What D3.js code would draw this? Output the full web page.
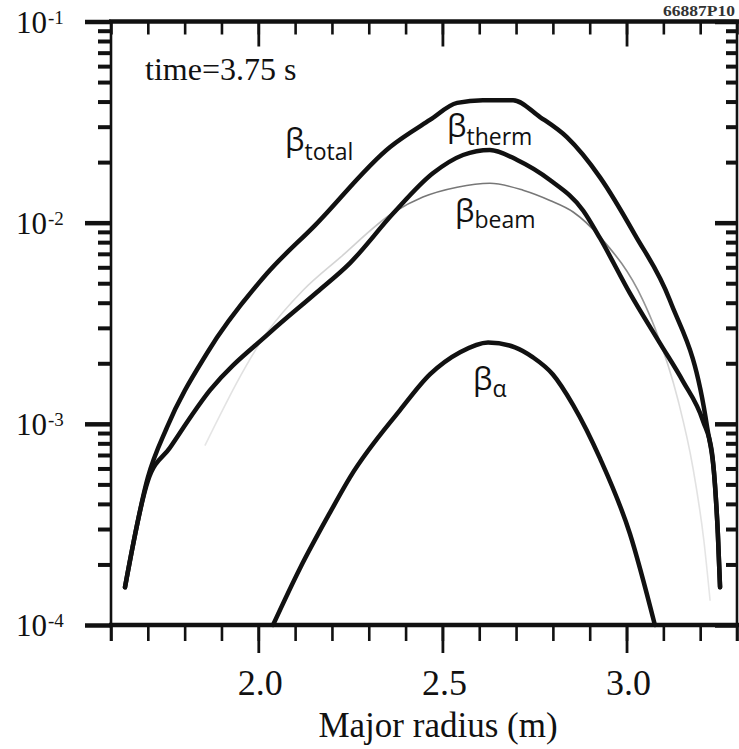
<!DOCTYPE html>
<html><head><meta charset="utf-8">
<script src="https://cdn.jsdelivr.net/npm/d3@7"></script>
<style>body{margin:0;background:#fff}svg{display:block}</style>
</head><body>
<svg id="c" width="739" height="749"></svg>
<script>
// ---- data ----
const xDomain = [1.6, 3.3];
const yDomain = [1e-4, 1e-1];
const xMajorTicks = [2.0, 2.5, 3.0];
const xMajorLabels = ["2.0", "2.5", "3.0"];
const yDecadeExps = [-1, -2, -3, -4];
const timeLabel = "time=3.75 s";
const xTitle = "Major radius (m)";
const figId = "66887P10";

// [major radius (m), beta]
const betaTotal = [[1.638,1.54e-4],[1.700,5.4e-4],[1.752,9.6e-4],[1.861,2.25e-3],[2.024,5.6e-3],[2.154,9.7e-3],[2.358,2.38e-2],[2.466,3.24e-2],[2.540,3.94e-2],[2.610,4.06e-2],[2.692,4.06e-2],[2.765,3.35e-2],[2.838,2.66e-2],[2.928,1.68e-2],[3.023,8.7e-3],[3.118,4.1e-3],[3.219,9.6e-4],[3.240,5.06e-4],[3.248,2.85e-4],[3.254,1.54e-4]];
const betaTherm = [[1.638,1.54e-4],[1.700,5.2e-4],[1.760,7.6e-4],[1.869,1.47e-3],[2.032,2.85e-3],[2.159,4.51e-3],[2.249,6.3e-3],[2.366,1.11e-2],[2.474,1.76e-2],[2.556,2.17e-2],[2.629,2.30e-2],[2.703,2.05e-2],[2.792,1.63e-2],[2.882,1.15e-2],[2.928,8.37e-3],[3.009,4.46e-3],[3.091,2.51e-3],[3.153,1.63e-3],[3.208,1.03e-3],[3.232,7.2e-4],[3.240,5.0e-4],[3.248,2.85e-4],[3.254,1.54e-4]];
const betaBeam = [[1.855,7.8e-4],[2.024,2.85e-3],[2.121,4.6e-3],[2.222,6.7e-3],[2.366,1.12e-2],[2.447,1.34e-2],[2.540,1.50e-2],[2.629,1.57e-2],[2.719,1.45e-2],[2.792,1.29e-2],[2.855,1.13e-2],[2.928,8.5e-3],[3.045,4.1e-3],[3.077,3.0e-3],[3.140,1.31e-3],[3.180,6.1e-4],[3.210,2.63e-4],[3.227,1.32e-4]];
const betaAlpha = [[2.040,1.0e-4],[2.113,1.91e-4],[2.195,3.63e-4],[2.249,5.42e-4],[2.385,1.17e-3],[2.466,1.76e-3],[2.548,2.27e-3],[2.624,2.54e-3],[2.697,2.40e-3],[2.746,2.14e-3],[2.800,1.76e-3],[2.855,1.24e-3],[2.928,6.73e-4],[3.009,2.85e-4],[3.077,1.0e-4]];

// ---- drawing ----
const svg = d3.select("#c");
const L = 111, R = 737, T = 21.5, B = 625;
const x = d3.scaleLinear().domain(xDomain).range([L, R]);
const y = d3.scaleLog().domain(yDomain).range([B, T]);
const ink = "#111";

const xMinor = d3.range(16, 34).map(d => d / 10);
const yMinor = [];
[-4, -3, -2].forEach(e => { for (let m = 2; m <= 9; m++) yMinor.push(m * Math.pow(10, e)); });
const yMajor = yDecadeExps.map(e => Math.pow(10, e));

function styleAxis(g, w) {
  g.select(".domain").remove();
  g.selectAll(".tick line").attr("stroke", ink).attr("stroke-width", w);
  g.selectAll(".tick text").remove();
}
// bottom (outward)
svg.append("g").attr("transform", `translate(0,${B})`).call(d3.axisBottom(x).tickValues(xMinor).tickSize(16).tickFormat("")).call(styleAxis, 2.6);
svg.append("g").attr("transform", `translate(0,${B})`).call(d3.axisBottom(x).tickValues(xMajorTicks).tickSize(28).tickFormat("")).call(styleAxis, 2.8);
// top (inward)
svg.append("g").attr("transform", `translate(0,${T})`).call(d3.axisBottom(x).tickValues(xMinor).tickSize(13).tickFormat("")).call(styleAxis, 2.6);
svg.append("g").attr("transform", `translate(0,${T})`).call(d3.axisBottom(x).tickValues(xMajorTicks).tickSize(25).tickFormat("")).call(styleAxis, 2.8);
// left (outward)
svg.append("g").attr("transform", `translate(${L},0)`).call(d3.axisLeft(y).tickValues(yMinor).tickSize(13).tickFormat("")).call(styleAxis, 4);
svg.append("g").attr("transform", `translate(${L},0)`).call(d3.axisLeft(y).tickValues(yMajor).tickSize(26).tickFormat("")).call(styleAxis, 4.5);
// right (inward)
svg.append("g").attr("transform", `translate(${R},0)`).call(d3.axisLeft(y).tickValues(yMinor).tickSize(11).tickFormat("")).call(styleAxis, 4);
svg.append("g").attr("transform", `translate(${R},0)`).call(d3.axisLeft(y).tickValues(yMajor).tickSize(22).tickFormat("")).call(styleAxis, 4.5);

// frame
svg.append("line").attr("x1", L - 2).attr("x2", 739).attr("y1", T).attr("y2", T).attr("stroke", ink).attr("stroke-width", 4.5);
svg.append("line").attr("x1", L - 2).attr("x2", 739).attr("y1", B).attr("y2", B).attr("stroke", ink).attr("stroke-width", 4.5);
svg.append("line").attr("x1", L).attr("x2", L).attr("y1", T).attr("y2", B + 16).attr("stroke", ink).attr("stroke-width", 2.6);
svg.append("line").attr("x1", R).attr("x2", R).attr("y1", T).attr("y2", B + 16).attr("stroke", ink).attr("stroke-width", 2.6);

// tick labels
const serif = "Liberation Serif, Times New Roman, serif";
svg.append("g").selectAll("text").data(xMajorTicks).join("text")
  .attr("x", d => x(d) + 2).attr("y", 695).attr("text-anchor", "middle")
  .style("font-family", serif).attr("font-size", 36).attr("fill", ink)
  .text((d, i) => xMajorLabels[i]);
const yl = svg.append("g").selectAll("text").data(yDecadeExps).join("text")
  .attr("x", 16).attr("y", d => y(Math.pow(10, d)) + 11)
  .style("font-family", serif).attr("font-size", 31).attr("fill", ink);
yl.append("tspan").text("10");
yl.append("tspan").attr("font-size", 19).attr("dy", -9).attr("dx", 1).text(d => "-" + Math.abs(d));

svg.append("text").attr("x", 438).attr("y", 737).attr("text-anchor", "middle")
  .style("font-family", serif).attr("font-size", 35).attr("fill", ink).text(xTitle);
svg.append("text").attr("x", 145).attr("y", 80)
  .style("font-family", serif).attr("font-size", 32).attr("fill", ink).text(timeLabel);
svg.append("text").attr("x", 663).attr("y", 16).attr("textLength", 72).attr("lengthAdjust", "spacingAndGlyphs")
  .style("font-family", serif).attr("font-size", 15).attr("font-weight", "bold").attr("fill", "#333").text(figId);

// curves
const line = d3.line().x(d => x(d[0])).y(d => y(d[1])).curve(d3.curveMonotoneX);
const defs = svg.append("defs");
const grad = defs.append("linearGradient").attr("id", "beamGrad")
  .attr("gradientUnits", "userSpaceOnUse").attr("x1", x(1.6)).attr("x2", x(3.3)).attr("y1", 0).attr("y2", 0);
const gStops = [[1.85, "#e6e6e6"], [2.3, "#cfcfcf"], [2.42, "#777"], [2.9, "#777"], [3.06, "#999"], [3.13, "#dcdcdc"], [3.25, "#e8e8e8"]];
gStops.forEach(s => grad.append("stop").attr("offset", (s[0] - 1.6) / 1.7).attr("stop-color", s[1]));

svg.append("path").attr("d", line(betaBeam)).attr("fill", "none").attr("stroke", "url(#beamGrad)").attr("stroke-width", 1.6);
[betaTotal, betaTherm, betaAlpha].forEach(s => {
  svg.append("path").attr("d", line(s)).attr("fill", "none").attr("stroke", ink)
    .attr("stroke-width", 4.5).attr("stroke-linejoin", "round").attr("stroke-linecap", "round");
});

// series labels
const sans = "Open Sans, DejaVu Sans, sans-serif";
function betaLabel(xp, yp, sub, subDy) {
  const t = svg.append("text").attr("x", xp).attr("y", yp).style("font-family", sans).attr("fill", ink);
  t.append("tspan").attr("font-size", 31).text("β");
  t.append("tspan").attr("font-size", 23).attr("dy", subDy).text(sub);
}
betaLabel(285, 151, "total", 9);
betaLabel(447, 137, "therm", 8);
betaLabel(455, 222, "beam", 6);
betaLabel(473, 390, "α", 7);
</script>
</body></html>
